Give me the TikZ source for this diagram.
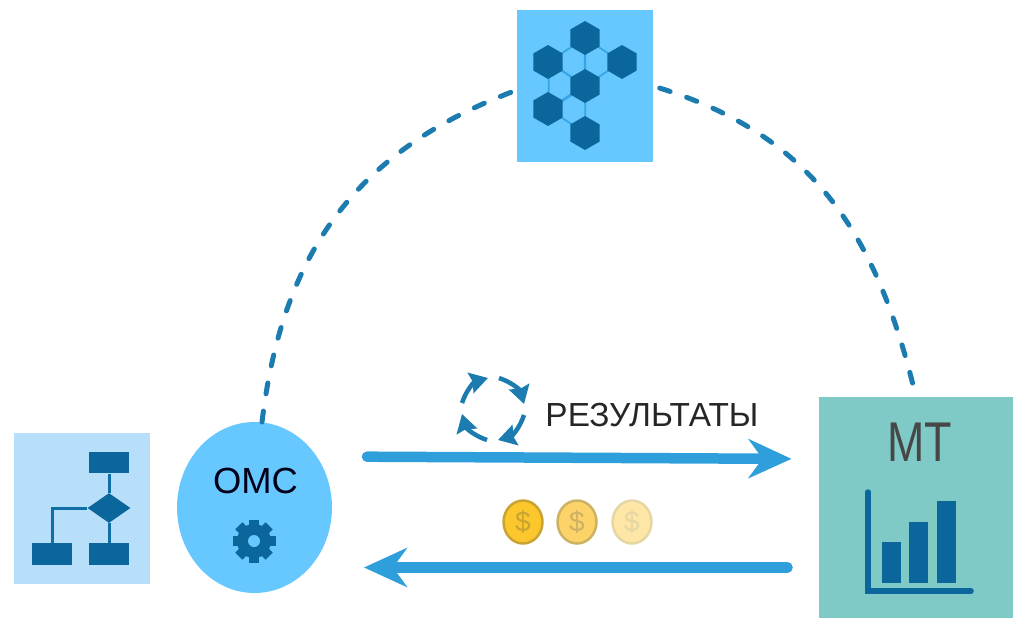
\documentclass[tikz,border=0pt]{standalone}
\usepackage{fontspec}
\setmainfont{Liberation Sans}
\usetikzlibrary{arrows.meta,shapes.geometric}
\definecolor{iconblue}{HTML}{0B669C}
\definecolor{skyblue}{HTML}{66C8FF}
\definecolor{paleblue}{HTML}{B7DFF9}
\definecolor{tealbox}{HTML}{7FCAC6}
\definecolor{arrowblue}{HTML}{2F9FDB}
\definecolor{dashblue}{HTML}{1C7CB0}
\definecolor{cellline}{HTML}{35A5E4}
\definecolor{coinfullfill}{HTML}{FCC72C}
\definecolor{coinfullline}{HTML}{C9A432}
\definecolor{coinhalffill}{HTML}{FBD368}
\definecolor{coinhalfline}{HTML}{CDB264}
\definecolor{coinlowfill}{HTML}{FDE6A6}
\definecolor{coinlowline}{HTML}{E4D7A4}
\tikzset{
  boxnode/.style={rectangle, minimum width=#1, inner sep=0pt, outer sep=0pt},
  hexdark/.style={regular polygon, regular polygon sides=6, shape border rotate=30, minimum size=.68cm, inner sep=0pt, fill=iconblue},
  hexline/.style={color=cellline, line width=.035cm, line join=round},
  flowrect/.style={rectangle, minimum width=.82cm, minimum height=.43cm, inner sep=0pt, fill=iconblue},
  flowline/.style={color=iconblue!85!cellline, line width=.06cm},
  bar/.style={rectangle, minimum width=.38cm, inner sep=0pt, fill=iconblue, anchor=south},
  coin/.style={ellipse, minimum width=.78cm, minimum height=.86cm, inner sep=0pt, line width=.05cm, font=\fontsize{16}{18}\selectfont},
  dashlink/.style={color=dashblue, line width=.1cm, line cap=round, dash pattern=on .22cm off .35cm},
  mainarrow/.style={color=arrowblue, line width=.21cm, line cap=round, -{Stealth[length=.86cm, width=.78cm, inset=.28cm]}},
  cyclearrow/.style={color=dashblue, line width=.09cm, -{Stealth[length=.36cm, width=.42cm, inset=.05cm]}}
}
\begin{document}
\begin{tikzpicture}[x=0.02cm, y=-0.02cm]
\useasboundingbox (0,0) rectangle (1013,618);

% three boxes and the ellipse
\node[boxnode=2.72cm, minimum height=3.04cm, fill=skyblue] (hub) at (585,86) {};
\node[boxnode=2.72cm, minimum height=3.02cm, fill=paleblue] (chart) at (82,508.5) {};
\node[boxnode=3.9cm, minimum height=4.42cm, fill=tealbox] (mt) at (916,507.5) {};
\node[ellipse, minimum width=3.1cm, minimum height=3.42cm, inner sep=0pt, outer sep=0pt, fill=skyblue] (omc) at (254.5,507.5) {};

% cells of the hub
\foreach \x/\y in {573/62, 597/62, 561/86, 573/109}
  \draw[hexline] (\x,{\y-16}) -- ({\x+12.3},{\y-8}) -- ({\x+12.3},{\y+8}) -- (\x,{\y+16}) -- ({\x-12.3},{\y+8}) -- ({\x-12.3},{\y-8}) -- cycle;
\node[hexdark] (hextop) at (585,38) {};
\node[hexdark] (hexleft) at (548,62) {};
\node[hexdark] (hexright) at (622,62) {};
\node[hexdark] (hexmid) at (585,86) {};
\node[hexdark] (hexlow) at (548,109) {};
\node[hexdark] (hexbottom) at (585,133) {};

% flow chart icon
\node[flowrect] (flowtop) at (109,462.5) {};
\node[flowrect] (flowleft) at (52,554) {};
\node[flowrect] (flowright) at (109,554) {};
\node[diamond, minimum width=.86cm, minimum height=.6cm, inner sep=0pt, fill=iconblue] (flowdec) at (109,508) {};
\draw[flowline] (flowtop) -- (flowdec);
\draw[flowline] (flowdec) -- (flowright);
\draw[flowline] (flowdec) -| (flowleft);

% labels
\node[inner sep=0pt, text=black!90!blue, font=\fontsize{20.7}{24}\selectfont] (omclabel) at (255.5,481) {ОМС};
\node[inner sep=0pt, text=black!85, font=\fontsize{19}{22}\selectfont] (reslabel) at (652,415.5) {РЕЗУЛЬТАТЫ};
\node[inner sep=0pt, text=black!72, font=\fontsize{25.5}{30}\selectfont] (mtlabel) at (920,442) {\scalebox{1}[1.25]{МТ}};

% gear
\fill[iconblue] (254,541) circle (17);
\foreach \a in {0,45,...,315}
  \fill[iconblue, rotate around={\a:(254,541)}] (249,519.5) rectangle (259,530);
\fill[skyblue] (254,541) circle (6);

% bars
\node[bar, minimum height=.82cm] (barone) at (891.5,583) {};
\node[bar, minimum height=1.22cm] (bartwo) at (918.5,583) {};
\node[bar, minimum height=1.64cm] (barthree) at (946.5,583) {};
\draw[color=iconblue, line width=.11cm, line cap=round] (868,492) -- (868,591) -- (971,591);

% coins
\node[coin, fill=coinfullfill, draw=coinfullline, text=coinfullline] (coinone) at (523,522) {\$};
\node[coin, fill=coinhalffill, draw=coinhalfline, text=coinhalfline] (cointwo) at (577,522) {\$};
\node[coin, fill=coinlowfill, draw=coinlowline, text=coinlowline] (cointhree) at (632,522) {\$};

% cycle
\foreach \a in {0,90,180,270}
  \draw[cyclearrow, rotate around={\a:(493,409)}] (499,378) to[bend left=28] (524,404);

% connectors
\draw[dashlink, shorten >=.08cm] ([xshift=.15cm]omc.north) .. controls (282,256) and (353,152) .. ([yshift=-.08cm]hub.west);
\draw[dashlink, shorten <=.14cm, shorten >=.14cm] (hub.east) .. controls (810,135) and (875,230) .. (mt.north);
\draw[mainarrow, shorten <=.7cm, shorten >=.54cm] ([yshift=1.02cm]omc.east) -- ([yshift=.97cm]mt.west);
\draw[mainarrow, shorten <=.62cm, shorten >=.64cm] ([yshift=-1.2cm]mt.west) -- ([yshift=-1.2cm]omc.east);
\end{tikzpicture}
\end{document}
